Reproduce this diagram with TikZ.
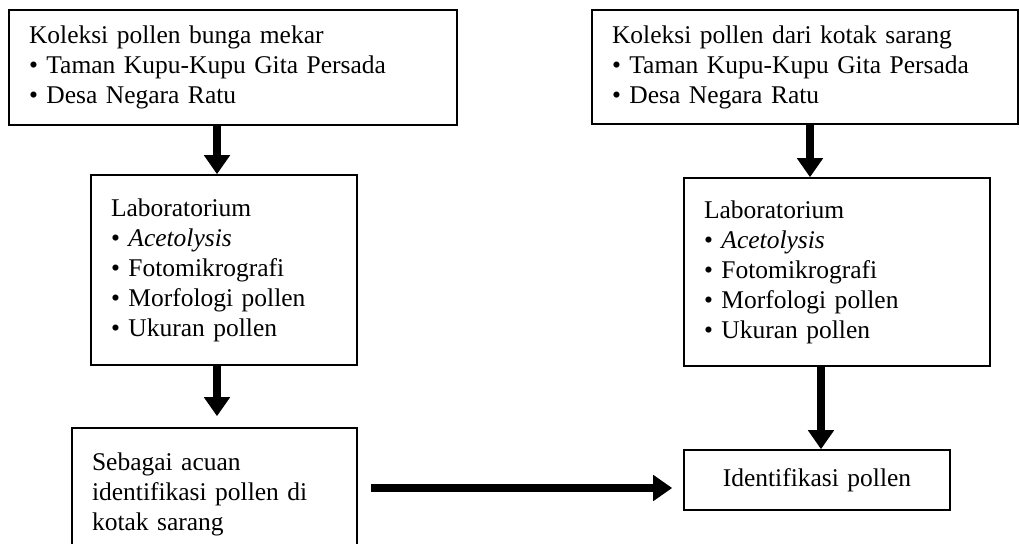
\documentclass[tikz,border=0pt]{standalone}
\usepackage{fontspec}
\setmainfont{Liberation Serif}
\usetikzlibrary{arrows.meta}

\begin{document}
\begin{tikzpicture}[x=1pt,y=-1pt,
        box/.style={draw, line width=1.6pt, rectangle, inner xsep=20pt, inner ysep=0pt, align=left, font=\fontsize{25.5}{30}\selectfont},
        bigarrow/.style={line width=7.5pt, -{Triangle[width=25pt,length=19pt]}}]
        \clip (0,0) rectangle (1019,543);
        \node[box, text width=408pt, minimum height=115pt] (kolA) at (233,67.5) {Koleksi pollen bunga mekar\\• Taman Kupu-Kupu Gita Persada\\• Desa Negara Ratu};
        \node[box, text width=386pt, minimum height=114pt] (kolB) at (805,67) {Koleksi pollen dari kotak sarang\\• Taman Kupu-Kupu Gita Persada\\• Desa Negara Ratu};
        \node[box, text width=226pt, minimum height=190pt] (labA) at (224,270) {Laboratorium\\• \textit{Acetolysis}\\• Fotomikrografi\\• Morfologi pollen\\• Ukuran pollen};
        \node[box, text width=266pt, minimum height=188pt] (labB) at (837,272) {Laboratorium\\• \textit{Acetolysis}\\• Fotomikrografi\\• Morfologi pollen\\• Ukuran pollen};
        \node[box, text width=245pt, minimum height=132pt] (acuan) at (214.5,494) {Sebagai acuan\\identifikasi pollen di\\kotak sarang};
        \node[box, text width=226pt, minimum height=60pt, align=center] (idf) at (817,480) {Identifikasi pollen};
        \draw[bigarrow] ([xshift=-16pt]kolA.south) -- ([xshift=-7pt]labA.north);
        \draw[bigarrow] ([xshift=-7pt]labA.south) -- ([xshift=2.5pt,yshift=11pt]acuan.north);
        \draw[bigarrow] ([xshift=5pt]kolB.south) -- ([xshift=-27pt]labB.north);
        \draw[bigarrow] ([xshift=-16pt]labB.south) -- ([xshift=4pt]idf.north);
        \coordinate (mid) at ([yshift=-8pt]idf.west);
        \draw[bigarrow] ([xshift=13pt]mid -| acuan.east) -- ([xshift=-11pt]mid);
    \end{tikzpicture}
\end{document}
